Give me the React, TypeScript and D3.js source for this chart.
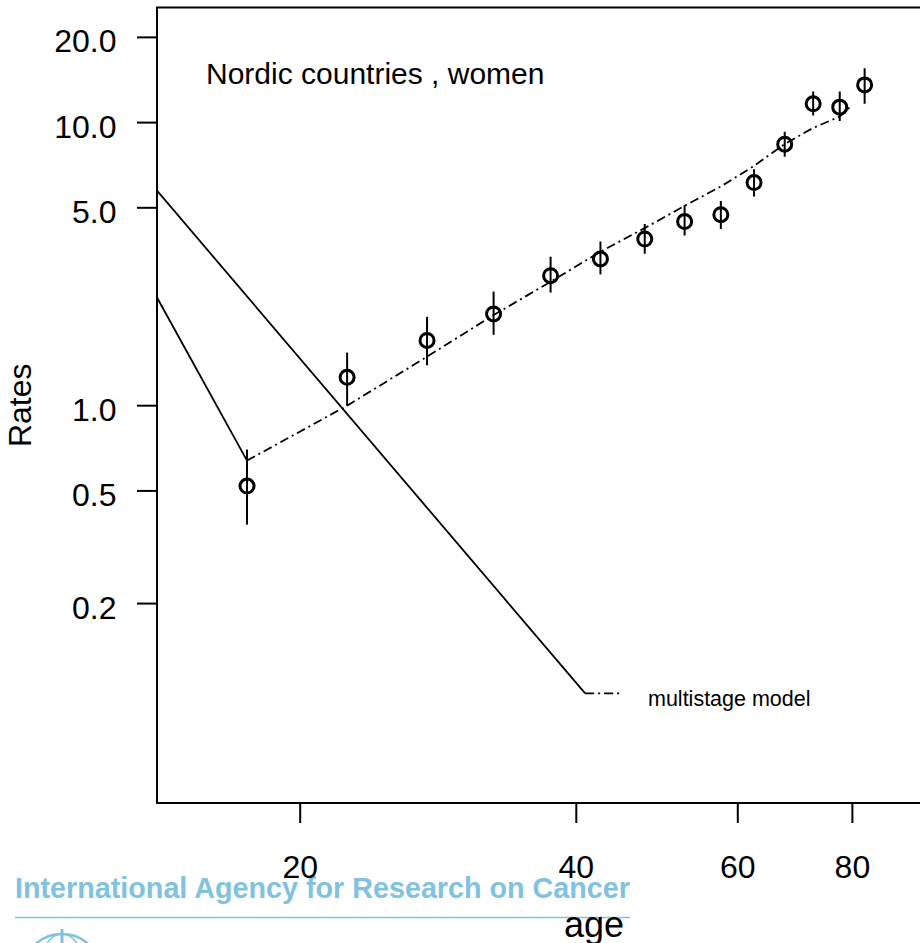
import * as d3 from 'd3';

// observed rates by 5-year age group (midpoints)
const ages = [17.5, 22.5, 27.5, 32.5, 37.5, 42.5, 47.5, 52.5, 57.5, 62.5, 67.5, 72.5, 77.5, 82.5];
const rates = [0.52, 1.26, 1.7, 2.11, 2.88, 3.3, 3.88, 4.47, 4.73, 6.14, 8.39, 11.65, 11.34, 13.59];
const lower = [0.38, 1.0, 1.39, 1.78, 2.51, 2.91, 3.44, 3.99, 4.21, 5.48, 7.58, 10.59, 10.14, 11.65];
const upper = [0.7, 1.54, 2.06, 2.53, 3.36, 3.8, 4.38, 5.12, 5.29, 6.84, 9.29, 12.87, 12.87, 15.57];

// fitted multistage model
const modelAges = [17.5, 22.5, 27.5, 32.5, 37.5, 42.5, 47.5, 52.5, 57.5, 62.5, 67.5, 72.5, 77.5, 80];
const modelRates = [0.64, 1.0, 1.49, 2.09, 2.74, 3.5, 4.24, 5.08, 5.95, 7.03, 8.4, 9.58, 10.5, 11.55];

// solid segments drawn in from the left edge
const leadInAges = [13.96, 17.5];
const leadInRates = [2.41, 0.64];
const strayAges = [13.96, 40.9];
const strayRates = [5.75, 0.0963];

// legend
const legendAges = [40.9, 44.9];
const legendRate = 0.0963;
const legendLabel = 'multistage model';

const xTicks = [20, 40, 60, 80];
const yTicks = [0.2, 0.5, 1, 5, 10, 20];
const yTickLabels = ['0.2', '0.5', '1.0', '5.0', '10.0', '20.0'];

const FONT = '"Liberation Sans", Arial, sans-serif';
const DASH = '9,4,2,4';

export default function App() {
  const W = 920;
  const H = 943;
  const left = 157;
  const top = 7.5;
  const bottom = 803;
  const right = 925;

  const x = d3.scaleLog().domain([13.96, 96]).range([left, right]);
  const y = d3.scaleLog().domain([0.0395, 25.5]).range([bottom, top]);

  const line = d3
    .line<[number, number]>()
    .x((d) => x(d[0]))
    .y((d) => y(d[1]));

  const zip = (a: number[], b: number[]) => a.map((v, i) => [v, b[i]] as [number, number]);

  const blue = '#80c2e0';

  return (
    <svg
      width={W}
      height={H}
      style={{ position: 'absolute', left: 0, top: 0, background: '#fff' }}
      fontFamily={FONT}
    >
      <defs>
        <clipPath id="plot">
          <rect x={left} y={top} width={right - left} height={bottom - top} />
        </clipPath>
      </defs>

      {/* watermark */}
      <g>
        <text
          x={15}
          y={898}
          fill={blue}
          fontSize={30}
          fontWeight="bold"
          textLength={615}
          lengthAdjust="spacingAndGlyphs"
        >
          International Agency for Research on Cancer
        </text>
        <line x1={15} x2={630} y1={917.5} y2={917.5} stroke={blue} strokeWidth={1.5} />
        <ellipse cx={62} cy={962} rx={34} ry={28} fill="none" stroke={blue} strokeWidth={2.5} />
        <ellipse cx={62} cy={962} rx={20} ry={28} fill="none" stroke={blue} strokeWidth={1.5} />
        <line x1={62} x2={62} y1={929} y2={943} stroke={blue} strokeWidth={3} />
      </g>

      {/* frame */}
      <rect
        x={left}
        y={top}
        width={right - left + 20}
        height={bottom - top}
        fill="none"
        stroke="#000"
        strokeWidth={2}
      />

      {/* y axis */}
      {yTicks.map((t, i) => (
        <g key={t}>
          <line x1={left - 20} x2={left} y1={y(t)} y2={y(t)} stroke="#000" strokeWidth={2} />
          <text x={116.5} y={y(t) + 15} textAnchor="end" fontSize={32}>
            {yTickLabels[i]}
          </text>
        </g>
      ))}
      <text transform={`translate(31,${(top + bottom) / 2}) rotate(-90)`} textAnchor="middle" fontSize={32}>
        Rates
      </text>

      {/* x axis */}
      {xTicks.map((t) => (
        <g key={t}>
          <line x1={x(t)} x2={x(t)} y1={bottom} y2={bottom + 20} stroke="#000" strokeWidth={2} />
          <text x={x(t)} y={878} textAnchor="middle" fontSize={32}>
            {t}
          </text>
        </g>
      ))}
      <text x={594} y={937} textAnchor="middle" fontSize={36}>
        age
      </text>

      <text x={206} y={84} fontSize={30}>
        Nordic countries , women
      </text>

      <g clipPath="url(#plot)">
        <path d={line(zip(leadInAges, leadInRates)) ?? ''} fill="none" stroke="#000" strokeWidth={1.8} />
        <path d={line(zip(strayAges, strayRates)) ?? ''} fill="none" stroke="#000" strokeWidth={1.8} />
        <path
          d={line(zip(modelAges, modelRates)) ?? ''}
          fill="none"
          stroke="#000"
          strokeWidth={1.8}
          strokeDasharray={DASH}
        />

        {ages.map((a, i) => (
          <g key={a}>
            <line
              x1={x(a)}
              x2={x(a)}
              y1={y(lower[i])}
              y2={y(upper[i])}
              stroke="#000"
              strokeWidth={2}
            />
            <circle cx={x(a)} cy={y(rates[i])} r={7} fill="none" stroke="#000" strokeWidth={3} />
          </g>
        ))}

        {/* legend */}
        <line
          x1={x(legendAges[0])}
          x2={x(legendAges[1])}
          y1={y(legendRate)}
          y2={y(legendRate)}
          stroke="#000"
          strokeWidth={1.8}
          strokeDasharray={DASH}
        />
        <text x={648} y={706} fontSize={21.5}>
          {legendLabel}
        </text>
      </g>
    </svg>
  );
}
